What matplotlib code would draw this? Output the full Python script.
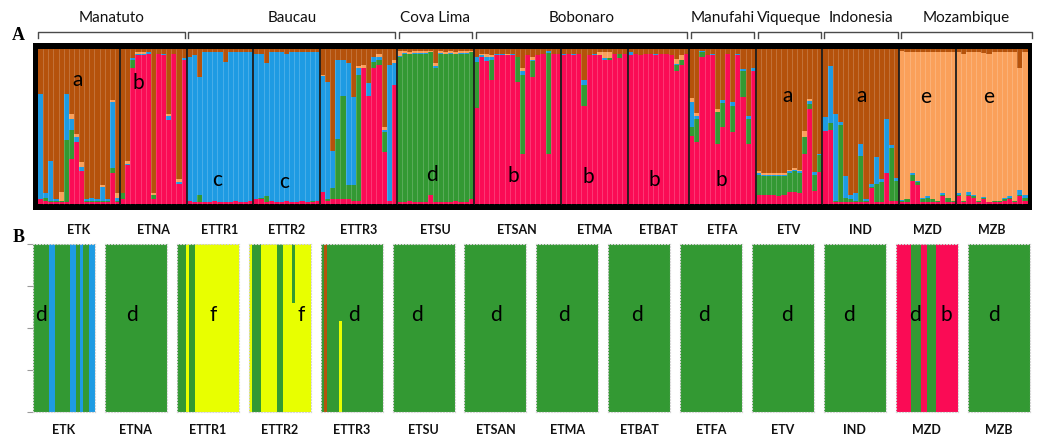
import matplotlib
matplotlib.use("Agg")
import matplotlib.pyplot as plt
from matplotlib import transforms
import numpy as np

plt.rcParams["font.family"] = ["Lato", "DejaVu Sans"]

populations = ["ETK", "ETNA", "ETTR1", "ETTR2", "ETTR3", "ETSU", "ETSAN",
               "ETMA", "ETBAT", "ETFA", "ETV", "IND", "MZD", "MZB"]
regions = ["Manatuto", "Baucau", "Cova Lima", "Bobonaro", "Manufahi",
           "Viqueque", "Indonesia", "Mozambique"]
region_sizes = [2, 3, 1, 3, 1, 1, 1, 2]

cluster_colors = {"a": "#B5520B", "b": "#FA0B55", "c": "#1E9BE3",
                  "d": "#339933", "e": "#FAA05A", "f": "#E8FF00"}

# Panel A: ancestry proportions per individual (one inner list per population).
# Whatever remains up to 1 is cluster a.
q_b = [
    [.03, .02, .01, .01, .01, .01, .29, .40, .21, .01, .01, .01, .01, .01, .20, .01],
    [.03, .25, .88, .96, .96, .97, .03, .97, .96, .545, .97, .13, .93],
    [.02, .01, .01, .01, .01, .02, .01, .01, .01, .02, .01, .01, .02],
    [.03, .03, .01, .02, .01, .01, .02, .01, .01, .02, .01, .01, .02],
    [.075, .02, .03, .03, .03, .03, .02, .02, .875, .70, .876, .90, .335, .02, .77],
    [.01, .01, .02, .01, .01, .01, .06, .01, .01, .01, .01, .02, .01, .01, .03],
    [.617, .95, .92, .80, .96, .96, .96, .96, .79, .325, .96, .82, .96, .97, .325, .97, .97],
    [.96, .97, .96, .97, .63, .96, .96, .96, .93, .93, .97, .94, .97],
    [.96, .97, .96, .97, .97, .96, .97, .97, .96, .855, .90, .97],
    [.44, .40, .95, .96, .96, .39, .50, .97, .465, .96, .69, .39, .855],
    [.06, .06, .06, .06, .05, .06, .08, .08, .07, .325, .615, .087, .205],
    [.47, .48, .01, .01, .01, .01, .01, .01, .01, .10, .01, .01, .20, .02, .02],
    [.01, .01, .15, .12, .01, .01, .01, .01, .05, .01, .01],
    [.05, .01, .05, .04, .01, .03, .01, .01, .01, .02, .03, .01, .05, .02],
]
q_d = [
    [0, .02, .01, .01, .01, .40, .19, 0, 0, .01, .01, .01, .01, .01, .03, .01],
    [.04, 0, .05, 0, 0, 0, .03, 0, 0, 0, 0, 0, 0],
    [0, 0, .05, 0, 0, 0, 0, 0, 0, 0, 0, 0, 0],
    [0, .01, .04, 0, 0, 0, 0, 0, 0, 0, 0, .01, 0],
    [0, .01, .075, .39, .667, .09, .10, .81, 0, 0, .04, .03, .13, 0, 0],
    [.94, .96, .95, .96, .96, .96, .92, .87, .96, .96, .96, .95, .96, .96, .95],
    [.30, 0, 0, .13, 0, 0, 0, 0, .16, .51, 0, .10, 0, 0, .65, 0, 0],
    [0, 0, 0, 0, .14, 0, 0, 0, 0, .01, 0, .03, 0],
    [0, 0, 0, 0, 0, 0, 0, 0, 0, .04, .03, 0],
    [.055, .15, .03, 0, 0, .205, .15, 0, .17, 0, .17, .16, 0],
    [.13, .12, .12, .12, .13, .12, .12, .13, .13, .11, .03, .10, .11],
    [0, .04, .01, .50, .03, .02, .01, .30, .01, .01, .12, .13, 0, .34, .13],
    [.01, .02, .04, .02, .02, .03, .02, .01, .01, .03, .01],
    [.01, .01, .01, .01, .01, .01, 0, .01, .01, .01, .01, .01, .01, .02],
]
q_c = [
    [.68, .03, .26, .01, 0, .30, .07, .03, .03, .01, .02, .01, .09, .01, .43, .02],
    [0, .01, .01, .01, .01, .01, 0, 0, .01, .02, 0, .01, .01],
    [.93, .95, .76, .97, .97, .96, .97, .905, .97, .96, .97, .97, .96],
    [.94, .93, .86, .96, .97, .97, .95, .97, .97, .96, .97, .96, .96],
    [.75, .76, .24, .51, .234, .79, .57, .05, 0, .08, .03, .02, .015, .88, .14],
    [.005, .005, 0, .005, .005, .005, 0, .01, .005, 0, .005, 0, .005, .005, 0],
    [.03, .01, .03, .02, .01, .01, 0, .01, 0, .02, 0, .01, 0, 0, .01, 0, 0],
    [.01, 0, .01, 0, .03, 0, .01, 0, .01, 0, 0, 0, 0],
    [.02, 0, 0, 0, 0, .01, 0, 0, 0, .01, 0, 0],
    [.16, .02, .01, 0, .01, 0, .02, 0, .02, .01, .01, .02, .02],
    [.01, .01, .01, .01, .01, .01, .01, .01, .01, 0, .02, .02, .01],
    [.09, .37, .56, .02, .14, .03, .05, .08, .01, .02, .17, .02, .35, .02, .02],
    [.005, 0, .01, .01, .01, .01, 0, 0, .01, 0, 0],
    [.01, 0, .02, .01, 0, .005, 0, 0, 0, .01, .01, 0, .03, .02],
]
q_e = [
    [0, 0, 0, 0, .06, 0, .03, .02, .03, 0, 0, 0, .01, 0, .01, .03],
    [0, .02, 0, .01, .01, 0, .01, 0, 0, .015, 0, .02, 0],
    [0, 0, 0, 0, 0, 0, 0, 0, 0, 0, 0, 0, 0],
    [0, 0, 0, 0, 0, 0, 0, 0, 0, 0, 0, 0, 0],
    [.01, 0, 0, 0, 0, 0, 0, .01, .02, 0, 0, .02, .02, 0, .02],
    [.03, .01, .01, .01, .01, .01, .01, .02, .01, .01, .01, .01, .01, .01, .005],
    [0, .01, .02, .01, 0, 0, .01, 0, 0, .02, 0, .02, 0, 0, 0, 0, 0],
    [0, 0, 0, 0, 0, 0, 0, .02, .04, .04, 0, 0, 0],
    [0, 0, 0, 0, 0, 0, 0, 0, 0, .03, .03, 0],
    [.03, .02, 0, 0, 0, .02, 0, 0, 0, 0, 0, 0, 0],
    [.01, .01, .01, .01, .01, .01, .01, .01, .01, .035, .01, 0, 0],
    [0, 0, 0, 0, 0, 0, 0, 0, 0, 0, 0, 0, 0, 0, 0],
    [.96, .95, .78, .83, .94, .93, .95, .96, .91, .94, .96],
    [.91, .95, .90, .92, .96, .93, .96, .96, .96, .94, .93, .96, .79, .92],
]

# Letters written inside panel A: (population, position across block, height, cluster)
panelA_labels = [
    ("ETK", .48, .80, "a"), ("ETNA", .27, .78, "b"), ("ETTR1", .46, .155, "c"),
    ("ETTR2", .46, .14, "c"), ("ETSU", .46, .19, "d"), ("ETSAN", .45, .18, "b"),
    ("ETMA", .41, .175, "b"), ("ETBAT", .43, .155, "b"), ("ETFA", .48, .155, "b"),
    ("ETV", .47, .70, "a"), ("IND", .51, .70, "a"), ("MZD", .46, .69, "e"),
    ("MZB", .46, .69, "e"),
]

# Panel B: cluster of each individual, one string per population
panelB_members = [
    "dddddccdddddccdcddcc",
    "dddddddddddddddddddd",
    "dddfddffffffffffffff",
    "fdddfffffddfffdfffff",
    "dadddddddddddddddddd",
    "dddddddddddddddddddd",
    "dddddddddddddddddddd",
    "dddddddddddddddddddd",
    "dddddddddddddddddddd",
    "dddddddddddddddddddd",
    "dddddddddddddddddddd",
    "dddddddddddddddddddd",
    "bbbbbdddbbdddbbbbbbb",
    "dddddddddddddddddddd",
]
# Admixed individuals in panel B: (population, index, lower cluster, lower share)
panelB_mixed = [("ETTR2", 14, "f", 0.65), ("ETTR3", 6, "f", 0.54)]
panelB_labels = [
    ("ETK", .13, "d"), ("ETNA", .44, "d"), ("ETTR1", .59, "f"), ("ETTR2", .84, "f"),
    ("ETTR3", .54, "d"), ("ETSU", .39, "d"), ("ETSAN", .51, "d"), ("ETMA", .44, "d"),
    ("ETBAT", .46, "d"), ("ETFA", .38, "d"), ("ETV", .56, "d"), ("IND", .40, "d"),
    ("MZD", .31, "d"), ("MZD", .82, "b"), ("MZB", .43, "d"),
]

W, H = 1042, 438
fig = plt.figure(figsize=(W / 100, H / 100), dpi=100)
fig.patch.set_facecolor("white")


def fx(px):
    return px / W


def fy(py):
    return 1 - py / H


# ---------------- Panel A ----------------
axA = fig.add_axes([fx(33), fy(210), (1032 - 33) / W, (210 - 43) / H])
axA.set_facecolor("black")
sizes = [len(v) for v in q_b]
starts = np.concatenate([[0], np.cumsum(sizes)])
n_total = int(starts[-1])

vb = np.concatenate(q_b)
vd = np.concatenate(q_d)
vc = np.concatenate(q_c)
ve = np.concatenate(q_e)
va = 1 - (vb + vd + vc + ve)
x = np.arange(n_total)
bottom = np.zeros(n_total)
for key, vals in [("b", vb), ("d", vd), ("c", vc), ("e", ve), ("a", va)]:
    axA.bar(x, vals, bottom=bottom, width=1.0, align="edge",
            color=cluster_colors[key], linewidth=0)
    bottom += vals

axA.vlines(np.arange(1, n_total), 0, 1, colors=[(1, 1, 1, 0.22)], linewidth=0.6)
axA.vlines(starts[1:-1], 0, 1, colors="#1c1c1c", linewidth=1.3)

ppb = 990 / n_total
pad_r = 4.5 / ppb
axA.set_xlim(-5 / ppb, n_total + pad_r)
axA.set_ylim(-6 / 155, 1 + 6 / 155)
axA.set_xticks([])
axA.set_yticks([])
for s in axA.spines.values():
    s.set_visible(False)

for pop, rx, yy, letter in panelA_labels:
    i = populations.index(pop)
    xx = starts[i] + rx * sizes[i]
    axA.text(xx, yy, letter, fontsize=15, ha="center", va="center", color="black")

trans = transforms.blended_transform_factory(axA.transData, fig.transFigure)

# region brackets
p = 0
for r, (name, k) in enumerate(zip(regions, region_sizes)):
    xs = starts[p] + (0 if r == 0 else 0.35)
    xe = starts[p + k] - 0.35 if r < len(regions) - 1 else n_total + pad_r
    axA.plot([xs, xs, xe, xe], [fy(38), fy(32), fy(32), fy(38)], transform=trans,
             color="#4a4a4a", linewidth=1.0, clip_on=False)
    axA.text((xs + xe) / 2, fy(18), name, transform=trans, ha="center",
             va="center", fontsize=11, color="#111111")
    p += k

# population names under panel A
for i, pop in enumerate(populations):
    axA.text(starts[i] + sizes[i] / 2, fy(230), pop, transform=trans, ha="center",
             va="center", fontsize=9, fontweight="bold", color="#111111")

fig.text(fx(18), fy(35), "A", fontsize=13, fontweight="bold",
         family=["Liberation Serif", "DejaVu Serif"], ha="center", va="center")
fig.text(fx(19), fy(238), "B", fontsize=13, fontweight="bold",
         family=["Liberation Serif", "DejaVu Serif"], ha="center", va="center")

# ---------------- Panel B ----------------
for i, pop in enumerate(populations):
    left = 33 + i * 71.9
    ax = fig.add_axes([fx(left), fy(412), 62 / W, (412 - 244) / H])
    members = panelB_members[i]
    n = len(members)
    xb = np.arange(n)
    lower_col = [cluster_colors[m] for m in members]
    lower_h = np.ones(n)
    upper_h = np.zeros(n)
    upper_col = list(lower_col)
    for mpop, idx, low, share in panelB_mixed:
        if mpop == pop:
            upper_col[idx] = cluster_colors[members[idx]]
            lower_col[idx] = cluster_colors[low]
            lower_h[idx] = share
            upper_h[idx] = 1 - share
    ax.bar(xb, lower_h, width=1.0, align="edge", color=lower_col, linewidth=0)
    ax.bar(xb, upper_h, bottom=lower_h, width=1.0, align="edge", color=upper_col,
           linewidth=0)
    ax.set_xlim(0, n)
    ax.set_ylim(0, 1)
    ax.set_xticks([])
    if i == 0:
        ax.set_yticks([0, 0.25, 0.5, 0.75, 1.0])
        ax.set_yticklabels([])
        ax.tick_params(axis="y", length=4, width=0.8, color="#9a9a9a")
    else:
        ax.set_yticks([])
    for s in ax.spines.values():
        s.set_color("#d6d6d6")
        s.set_linestyle(":")
        s.set_linewidth(0.8)
    for lpop, rx, letter in panelB_labels:
        if lpop == pop:
            ax.text(rx, 0.58, letter, transform=ax.transAxes, fontsize=15,
                    ha="center", va="center", color="black")
    fig.text(fx(left + 31), fy(430), pop, ha="center", va="center",
             fontsize=9, fontweight="bold", color="#111111")

fig.savefig("out.png", dpi=100)
